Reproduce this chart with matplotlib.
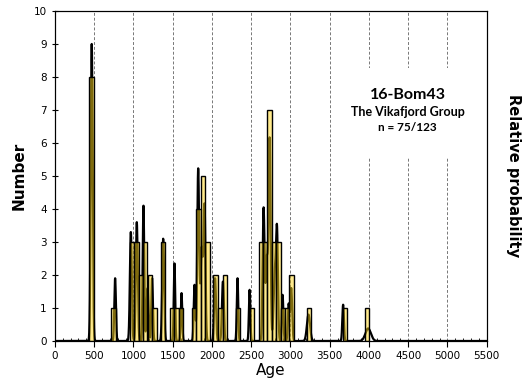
import numpy as np
import matplotlib
matplotlib.use("Agg")
import matplotlib.pyplot as plt
from matplotlib.patches import Rectangle

# histogram bins (left edge of bin, Ma) and number of grains
bin_left = [440, 720,
            955, 1010, 1065, 1120, 1180, 1240,
            1350, 1460, 1520, 1580,
            1745, 1800, 1860, 1915,
            2020, 2080, 2135, 2305, 2480,
            2595, 2650, 2705, 2760, 2820, 2875, 2930, 2985,
            3210, 3665, 3950]
counts = [8, 1,
          3, 3, 2, 3, 2, 1,
          3, 1, 1, 1,
          1, 4, 5, 3,
          2, 1, 2, 1, 1,
          3, 3, 7, 3, 3, 1, 1, 2,
          1, 1, 1]

# probability density peaks: age, height, spread
peak_age = [469, 767, 967, 1043, 1128, 1180, 1238, 1379, 1523, 1613,
            1778, 1825, 1870, 1906, 2040, 2140, 2326, 2480,
            2658, 2700, 2735, 2800, 2829, 2900, 2977, 3010,
            3230, 3671, 3990]
peak_h = [9.0, 1.9, 3.3, 3.6, 4.1, 1.6, 1.9, 3.1, 2.35, 1.45,
          1.7, 5.2, 2.8, 4.0, 1.9, 1.8, 1.9, 1.55,
          4.0, 2.5, 6.0, 2.0, 3.2, 1.4, 1.1, 1.6,
          0.8, 1.1, 0.38]
peak_sd = [12, 10, 12, 12, 10, 12, 10, 12, 9, 9,
           10, 12, 15, 12, 12, 12, 9, 9,
           12, 15, 12, 15, 12, 10, 10, 12,
           20, 10, 35]

age = np.linspace(0, 5500, 5501)
prob = np.zeros_like(age)
for a, h, s in zip(peak_age, peak_h, peak_sd):
    prob += h * np.exp(-0.5 * ((age - a) / s) ** 2)

fig = plt.figure(figsize=(5.3, 3.83), dpi=100)
ax = fig.add_axes([0.1036, 0.1097, 0.8147, 0.8616])

ax.plot(age, prob, color="black", lw=1.6, zorder=2)
ax.bar(bin_left, counts, width=56, align="edge",
       facecolor=(1.0, 0.84, 0.1, 0.5), edgecolor="black", lw=1.0, zorder=3)

ax.set_xlim(0, 5500)
ax.set_ylim(0, 10)
ax.set_xticks(np.arange(0, 5501, 500))
ax.set_xticks(np.arange(0, 5501, 100), minor=True)
ax.set_yticks(np.arange(0, 11, 1))
ax.tick_params(axis="x", which="major", direction="out", length=4, labelsize=7.5, pad=3)
ax.tick_params(axis="x", which="minor", direction="in", length=2)
ax.tick_params(axis="y", which="major", direction="inout", length=5, labelsize=7.5)
ax.xaxis.grid(True, linestyle=(0, (3, 2)), color="#777777", lw=0.7)
ax.set_axisbelow(True)

ax.set_xlabel("Age", fontsize=11, labelpad=2)
ax.set_ylabel("Number", fontsize=11, fontweight="bold", labelpad=5)

ax2 = ax.twinx()
ax2.set_ylim(0, 10)
ax2.set_yticks([])
ax2.set_ylabel("Relative probability", fontsize=10.5, fontweight="bold",
               rotation=270, labelpad=25)

# white box behind the sample label
ax.add_patch(Rectangle((0.655, 0.558), 0.32, 0.27, transform=ax.transAxes,
                       facecolor="white", edgecolor="none", zorder=1.5))
ax.text(0.817, 0.745, "16-Bom43", transform=ax.transAxes, ha="center", va="center",
        fontsize=11.5, fontweight="bold", family="Lato", zorder=4)
ax.text(0.817, 0.694, "The Vikafjord Group", transform=ax.transAxes, ha="center",
        va="center", fontsize=9, fontweight="bold", family="Lato", zorder=4)
ax.text(0.817, 0.647, "n = 75/123", transform=ax.transAxes, ha="center",
        va="center", fontsize=8.5, fontweight="bold", family="Lato", zorder=4)

fig.savefig("out.png", dpi=100)
